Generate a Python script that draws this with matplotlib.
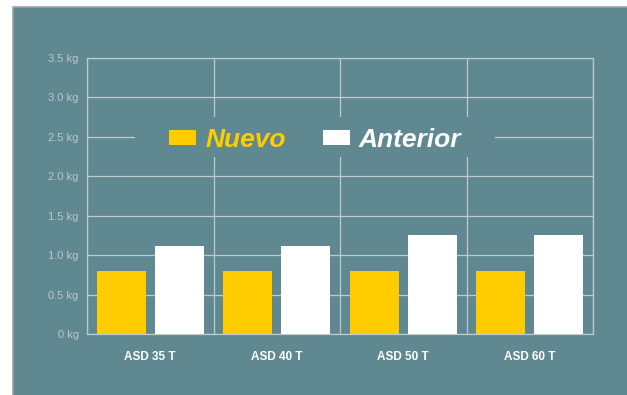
import numpy as np
import matplotlib
matplotlib.use('Agg')
import matplotlib.pyplot as plt
from matplotlib.patches import Rectangle, Patch

plt.rcParams['font.family'] = ['Liberation Sans', 'DejaVu Sans']

## data
modelos  = ['ASD 35 T', 'ASD 40 T', 'ASD 50 T', 'ASD 60 T']
nuevo    = [0.80, 0.80, 0.80, 0.80]
anterior = [1.11, 1.11, 1.25, 1.25]
yticks   = [0, 0.5, 1.0, 1.5, 2.0, 2.5, 3.0, 3.5]
ylabels  = ['0 kg', '0.5 kg', '1.0 kg', '1.5 kg', '2.0 kg', '2.5 kg', '3.0 kg', '3.5 kg']

teal   = '#5f8891'
grid_c = '#c0cacd'
yellow = '#ffcc00'

fig = plt.figure(figsize=(6.27, 3.95), dpi=100)
fig.patch.set_facecolor('white')
# teal panel behind the chart
fig.patches.append(Rectangle((13/627, -0.05), 1.1, 1 - 7/395 + 0.05, transform=fig.transFigure,
                             facecolor=teal, edgecolor='#9aa4a8', linewidth=1.2, zorder=-5))

ax = fig.add_axes([87/627, 1 - 334/395, 506/627, 276/395])
ax.set_facecolor(teal)

x = np.arange(len(modelos))
w = 0.387
ax.bar(x + 0.5 - 0.229, nuevo, w, color=yellow, zorder=3)
ax.bar(x + 0.5 + 0.229, anterior, w, color='white', zorder=3)

ax.set_xlim(0, len(modelos))
ax.set_ylim(0, 3.5)
ax.set_yticks(yticks)
ax.set_yticklabels(ylabels, color='#b9c7cb', fontsize=8)
ax.set_xticks(x + 0.5)
ax.set_xticklabels(modelos, color='white', fontsize=8.5, fontweight='bold')
ax.set_xticks(np.arange(len(modelos) + 1), minor=True)
ax.tick_params(axis='both', which='both', length=0)
ax.tick_params(axis='y', pad=6)
ax.tick_params(axis='x', pad=12)
ax.grid(axis='y', color=grid_c, linewidth=0.9)
ax.grid(axis='x', which='minor', color=grid_c, linewidth=0.9)
for s in ax.spines.values():
    s.set_color(grid_c)
    s.set_linewidth(0.9)

# mask behind the legend
ax.add_patch(Rectangle((48/506, 177/276), 360/506, 40/276, transform=ax.transAxes,
                       facecolor=teal, edgecolor='none', zorder=2))

handles = [Patch(facecolor=yellow, edgecolor='none'), Patch(facecolor='white', edgecolor='none')]
leg = ax.legend(handles, ['Nuevo', 'Anterior'], ncol=2, loc='center',
                bbox_to_anchor=(0.451, 0.703), frameon=False,
                prop={'size': 19, 'style': 'italic', 'weight': 'bold'},
                handlelength=1.02, handleheight=0.49, handletextpad=0.34,
                columnspacing=1.4)
leg.set_zorder(4)
texts = leg.get_texts()
texts[0].set_color(yellow)
texts[1].set_color('white')

plt.savefig('out.png', dpi=100)
